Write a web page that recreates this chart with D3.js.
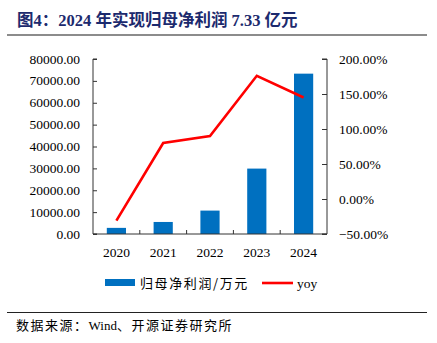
<!DOCTYPE html>
<html>
<head>
<meta charset="utf-8">
<script src="https://cdn.jsdelivr.net/npm/d3@7/dist/d3.min.js"></script>
<style>
  html, body { margin: 0; padding: 0; background: #fff; }
  svg { display: block; }
</style>
</head>
<body>
<svg id="chart" width="437" height="343"></svg>
<script>
// Net profit attributable to parent (10k CNY) and YoY growth
const years = ["2020", "2021", "2022", "2023", "2024"];
const profit = [2800, 5500, 10700, 29900, 73300];
const yoy = [-0.31, 0.80, 0.90, 1.76, 1.45];
const leftTicks = [0, 10000, 20000, 30000, 40000, 50000, 60000, 70000, 80000];
const rightTicks = [-0.5, 0, 0.5, 1.0, 1.5, 2.0];

(function () {
const svg = d3.select("#chart");
const serif = "'Liberation Serif', 'Times New Roman', serif";
const cjk = "'Noto Sans CJK SC', sans-serif";

// Title
svg.append("text")
  .attr("x", 17).attr("y", 26)
  .attr("fill", "#1c2a6e")
  .attr("font-size", 16.5).attr("font-weight", "bold")
  .attr("font-family", serif + ", " + cjk)
  .text("图4：2024 年实现归母净利润 7.33 亿元");
svg.append("line")
  .attr("x1", 7).attr("x2", 427).attr("y1", 35).attr("y2", 35)
  .attr("stroke", "#8c8c8c").attr("stroke-width", 2);

// Plot area
const plotL = 93, plotR = 327, plotT = 59, plotB = 234;

const x = d3.scaleBand().domain(years).range([plotL, plotR]);
const yL = d3.scaleLinear().domain([0, 80000]).range([plotB, plotT]);
const yR = d3.scaleLinear().domain([-0.5, 2.0]).range([plotB, plotT]);

// Bars
const barW = x.bandwidth() * 0.41;
svg.append("g").selectAll("rect")
  .data(years)
  .join("rect")
  .attr("x", (d) => x(d) + x.bandwidth() / 2 - barW / 2)
  .attr("width", barW)
  .attr("y", (d, i) => yL(profit[i]))
  .attr("height", (d, i) => plotB - yL(profit[i]))
  .attr("fill", "#0070c0");

// YoY line
const line = d3.line()
  .x((d, i) => x(years[i]) + x.bandwidth() / 2)
  .y((d) => yR(d));
svg.append("path")
  .datum(yoy)
  .attr("d", line)
  .attr("fill", "none")
  .attr("stroke", "#ff0000")
  .attr("stroke-width", 2.6)
  .attr("stroke-linejoin", "miter");

// Left axis
const axL = svg.append("g")
  .attr("transform", `translate(${plotL},0)`)
  .call(d3.axisRight(yL).tickValues(leftTicks).tickSize(4).tickFormat(""));
axL.selectAll("path, line").attr("stroke", "#333");
axL.select(".domain").attr("d", `M4,${plotT}H0V${plotB}H4`);
svg.append("g").selectAll("text")
  .data(leftTicks)
  .join("text")
  .attr("x", 80).attr("y", (d) => yL(d) + 4.5)
  .attr("text-anchor", "end")
  .attr("font-family", serif).attr("font-size", 13.5).attr("fill", "#000")
  .text((d) => d3.format(".2f")(d));

// Right axis
const axR = svg.append("g")
  .attr("transform", `translate(${plotR},0)`)
  .call(d3.axisLeft(yR).tickValues(rightTicks).tickSize(5).tickFormat(""));
axR.selectAll("path, line").attr("stroke", "#333");
axR.select(".domain").attr("d", `M-5,${plotT}H0V${plotB}H-5`);
svg.append("g").selectAll("text")
  .data(rightTicks)
  .join("text")
  .attr("x", 339).attr("y", (d) => yR(d) + 4.5)
  .attr("text-anchor", "start")
  .attr("font-family", serif).attr("font-size", 13.5).attr("fill", "#000")
  .text((d) => d3.format(".2f")(d * 100) + "%");

// Bottom axis with ticks between categories
svg.append("line")
  .attr("x1", plotL).attr("x2", plotR).attr("y1", plotB).attr("y2", plotB)
  .attr("stroke", "#333");
svg.append("g").selectAll("line")
  .data(years.slice(1))
  .join("line")
  .attr("x1", (d) => x(d)).attr("x2", (d) => x(d))
  .attr("y1", plotB).attr("y2", plotB - 4)
  .attr("stroke", "#333");
svg.append("g").selectAll("text")
  .data(years)
  .join("text")
  .attr("x", (d) => x(d) + x.bandwidth() / 2).attr("y", 257)
  .attr("text-anchor", "middle")
  .attr("font-family", serif).attr("font-size", 13.5).attr("fill", "#000")
  .text((d) => d);

// Legend
svg.append("rect").attr("x", 105).attr("y", 279).attr("width", 30).attr("height", 7).attr("fill", "#0070c0");
svg.append("text").attr("x", 140).attr("y", 288)
  .attr("font-family", cjk).attr("font-size", 13).attr("fill", "#000")
  .attr("letter-spacing", 1.6)
  .text("归母净利润/万元");
svg.append("line").attr("x1", 262).attr("x2", 293).attr("y1", 283).attr("y2", 283)
  .attr("stroke", "#ff0000").attr("stroke-width", 2.6);
svg.append("text").attr("x", 297).attr("y", 288)
  .attr("font-family", serif).attr("font-size", 13.5).attr("fill", "#000")
  .text("yoy");

// Footer
svg.append("line")
  .attr("x1", 7).attr("x2", 427).attr("y1", 312.5).attr("y2", 312.5)
  .attr("stroke", "#222").attr("stroke-width", 1);
const src = svg.append("text").attr("x", 16).attr("y", 330)
  .attr("font-family", serif + ", " + cjk).attr("font-size", 13).attr("fill", "#000");
src.append("tspan").attr("letter-spacing", 1.5).text("数据来源：");
src.append("tspan").text("Wind");
src.append("tspan").attr("letter-spacing", 1.5).text("、开源证券研究所");
})();
</script>
</body>
</html>
